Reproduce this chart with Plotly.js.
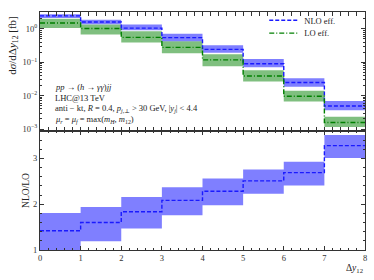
<!DOCTYPE html>
<html><head><meta charset="utf-8">
<script src="https://cdn.plot.ly/plotly-3.0.1.min.js"></script>
<style>html,body{margin:0;padding:0;background:#fff}#c{width:374px;height:280px}</style>
</head><body><div id="c"></div>
<script>
// bin edges in Δy12
const binEdges = [0,1,2,3,4,5,6,7,8];
// dσ/dΔy12 [fb]
const nloCentral = [2.45, 1.60, 1.05, 0.545, 0.243, 0.0904, 0.0247, 0.0049];
const nloUpper   = [2.75, 1.87, 1.34, 0.714, 0.325, 0.126, 0.033, 0.00686];
const nloLower   = [2.10, 1.38, 0.91, 0.425, 0.194, 0.0705, 0.0183, 0.00364];
const loCentral  = [1.50, 1.02, 0.557, 0.278, 0.118, 0.0385, 0.0096, 0.00156];
const loUpper    = [2.00, 1.34, 0.85, 0.425, 0.174, 0.0575, 0.014, 0.00234];
const loLower    = [1.07, 0.68, 0.39, 0.186, 0.0754, 0.0264, 0.00668, 0.00114];
// NLO/LO ratio
const ratioCentral = [1.42, 1.60, 1.835, 2.085, 2.285, 2.51, 2.69, 3.28];
const ratioUpper   = [1.81, 1.94, 2.16, 2.37, 2.56, 2.76, 2.93, 3.51];
const ratioLower   = [0.95, 1.19, 1.47, 1.76, 1.98, 2.23, 2.41, 3.01];
// tick labels
const logTickVals = [0.001, 0.01, 0.1, 1];
const logTickText = ['10<sup>−3</sup>','10<sup>−2</sup>','10<sup>−1</sup>','10<sup>0</sup>'];
const ratioTickVals = [1,2,3];
const xTickVals = [0,1,2,3,4,5,6,7,8];

const ext = a => a.concat([a[a.length-1]]);
const F = 'Liberation Serif, DejaVu Serif, serif';
const blueFill = 'rgba(0,0,255,0.5)';
const greenFill = 'rgba(0,128,0,0.5)';

function band(lo, hi, color, ya){
  return [
    {x: binEdges, y: ext(lo), xaxis:'x', yaxis:ya, mode:'lines', line:{shape:'hv', width:0}, showlegend:false, hoverinfo:'skip'},
    {x: binEdges, y: ext(hi), xaxis:'x', yaxis:ya, mode:'lines', line:{shape:'hv', width:0}, fill:'tonexty', fillcolor:color, showlegend:false, hoverinfo:'skip'}
  ];
}

const traces = [].concat(
  band(loLower, loUpper, greenFill, 'y'),
  band(nloLower, nloUpper, blueFill, 'y'),
  [{x: binEdges, y: ext(nloCentral), xaxis:'x', yaxis:'y', mode:'lines', name:'NLO eff.', legend:'legend',
    line:{shape:'hv', color:'#1a1aff', width:1.4, dash:'4px,2px'}},
   {x: binEdges, y: ext(loCentral), xaxis:'x', yaxis:'y', mode:'lines', name:'LO eff.', legend:'legend2',
    line:{shape:'hv', color:'#008000', width:1.4, dash:'5px,2px,1px,2px'}}],
  band(ratioLower, ratioUpper, blueFill, 'y2'),
  [{x: binEdges, y: ext(ratioCentral), xaxis:'x', yaxis:'y2', mode:'lines', showlegend:false,
    line:{shape:'hv', color:'#1a1aff', width:1.4, dash:'4px,2px'}}]
);

const axCommon = {showline:true, linecolor:'#333', linewidth:1, mirror:'allticks', ticks:'inside', ticklen:4,
  tickcolor:'#333', showgrid:false, zeroline:false, tickfont:{family:F, size:8.5, color:'#333'}};

const legCommon = {xanchor:'left', yanchor:'top', bgcolor:'rgba(0,0,0,0)', traceorder:'normal',
    font:{family:F, size:8.5, color:'#222'}, itemwidth:30, tracegroupgap:0};

const layout = {
  width:374, height:280, margin:{l:40, r:9, t:6, b:30},
  paper_bgcolor:'#fff', plot_bgcolor:'#fff',
  font:{family:F, size:8.5, color:'#222'},
  xaxis: Object.assign({}, axCommon, {range:[0,8], anchor:'y2', tickvals:xTickVals,
     minor:{ticks:'inside', ticklen:2, dtick:0.2, tickcolor:'#333'}}),
  yaxis: Object.assign({}, axCommon, {type:'log', range:[-3.06, 0.505], domain:[0.5,1],
     tickvals:logTickVals, ticktext:logTickText,
     minor:{ticks:'inside', ticklen:2, tickcolor:'#333', dtick:'D1'}}),
  yaxis2: Object.assign({}, axCommon, {range:[1,3.6], domain:[0,0.5], tickvals:ratioTickVals,
     minor:{ticks:'inside', ticklen:2, dtick:0.2, tickcolor:'#333'}}),
  showlegend:true,
  legend: Object.assign({}, legCommon, {x:0.69, y:1.026}),
  legend2: Object.assign({}, legCommon, {x:0.69, y:0.972}),
  annotations:[
    {xref:'paper', yref:'paper', x:-0.082, y:0.86, xanchor:'center', yanchor:'middle', textangle:-90,
     text:'d<i>σ</i>/dΔ<i>y</i><sub>12</sub> [fb]', showarrow:false, font:{family:F, size:11}},
    {xref:'paper', yref:'paper', x:-0.045, y:0.25, xanchor:'center', yanchor:'middle', textangle:-90,
     text:'NLO/LO', showarrow:false, font:{family:F, size:9.5}},
    {xref:'paper', yref:'paper', x:1.0, y:-0.045, xanchor:'right', yanchor:'top',
     text:'Δ<i>y</i><sub>12</sub>', showarrow:false, font:{family:F, size:9.5}},
    {xref:'paper', yref:'paper', x:0.04, y:0.685, xanchor:'left', yanchor:'middle',
     text:'<i>pp</i> → (<i>h</i> → <i>γγ</i>)<i>jj</i>', showarrow:false, font:{family:F, size:8.5}},
    {xref:'paper', yref:'paper', x:0.04, y:0.64, xanchor:'left', yanchor:'middle',
     text:'LHC@13 TeV', showarrow:false, font:{family:F, size:8.5}},
    {xref:'paper', yref:'paper', x:0.04, y:0.595, xanchor:'left', yanchor:'middle',
     text:'anti − kt, <i>R</i> = 0.4, <i>p</i><sub><i>j</i>,⊥</sub> > 30 GeV, |<i>y<sub>j</sub></i>| < 4.4', showarrow:false, font:{family:F, size:8.5}},
    {xref:'paper', yref:'paper', x:0.04, y:0.548, xanchor:'left', yanchor:'middle',
     text:'<i>μ<sub>r</sub></i> = <i>μ<sub>f</sub></i> = max(<i>m<sub>H</sub></i>, <i>m</i><sub>12</sub>)', showarrow:false, font:{family:F, size:8.5}}
  ]
};

Plotly.newPlot('c', traces, layout, {displayModeBar:false, staticPlot:true});
</script></body></html>
